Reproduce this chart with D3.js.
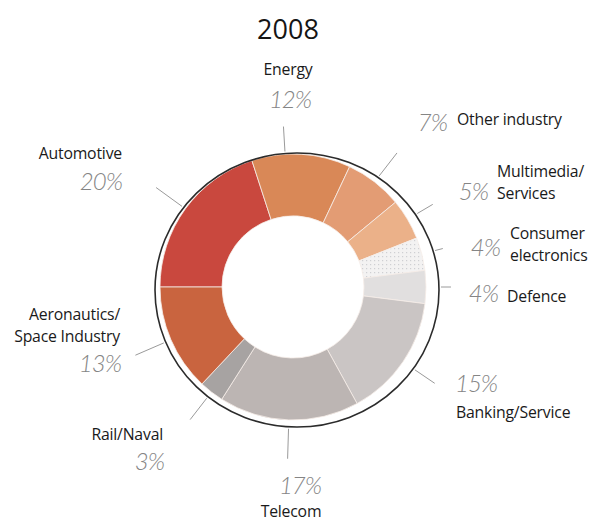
<!DOCTYPE html>
<html>
<head>
<meta charset="utf-8">
<script src="https://cdn.jsdelivr.net/npm/d3@7"></script>
<style>
  html, body { margin: 0; padding: 0; background: #fff; }
  svg { display: block; }
  .lbl { font-family: "Open Sans", sans-serif; font-size: 15.8px; fill: #1a1a1a; letter-spacing: -0.2px; }
  .pct { font-family: Lato, sans-serif; font-style: italic; font-weight: 300; font-size: 24px; fill: #858585; letter-spacing: -1px; }
  .title { font-family: "Open Sans", sans-serif; font-size: 27px; fill: #151515; }
</style>
</head>
<body>
<svg id="chart" width="594" height="523"></svg>
<script>
// Sector shares in 2008, listed clockwise starting at 9 o'clock
const sectors = ["Automotive", "Energy", "Other industry", "Multimedia/Services", "Consumer electronics",
                 "Defence", "Banking/Service", "Telecom", "Rail/Naval", "Aeronautics/Space Industry"];
const shares = [20, 12, 7, 5, 4, 4, 15, 17, 3, 13];
const shareLabels = ["20%", "12%", "7%", "5%", "4%", "4%", "15%", "17%", "3%", "13%"];
const colors = ["#c9483e", "#d98857", "#e39c74", "#ebb189", "url(#dots)",
                "#e1dfdf", "#cac5c4", "#bcb5b3", "#a7a3a2", "#c9643f"];

const svg = d3.select("#chart");
const cx = 293, cy = 287, rOuter = 133, rInner = 71;

// dotted fill for the consumer electronics slice
const defs = svg.append("defs");
const pat = defs.append("pattern").attr("id", "dots")
  .attr("width", 4).attr("height", 4).attr("patternUnits", "userSpaceOnUse");
pat.append("rect").attr("width", 4).attr("height", 4).attr("fill", "#f3f2f2");
pat.append("rect").attr("x", 1).attr("y", 1).attr("width", 1.2).attr("height", 1.2).attr("fill", "#cfcfd3");

svg.append("text").attr("class", "title")
  .attr("x", 288).attr("y", 39).attr("text-anchor", "middle").text("2008");

const pie = d3.pie().sort(null).value(d => d)
  .startAngle(-Math.PI / 2).endAngle(3 * Math.PI / 2);
const arcs = pie(shares);
const arc = d3.arc().innerRadius(rInner).outerRadius(rOuter);

const g = svg.append("g").attr("transform", `translate(${cx},${cy})`);
g.selectAll("path.slice").data(arcs).join("path")
  .attr("class", "slice")
  .attr("d", arc)
  .attr("fill", (d, i) => colors[i])
  .attr("stroke", "#f6eee8").attr("stroke-width", 0.8);

// hand-drawn style outline around the ring
const ring = { cx: 297, cy: 290, rx: 142, ry: 137 };
svg.append("ellipse")
  .attr("cx", ring.cx).attr("cy", ring.cy).attr("rx", ring.rx).attr("ry", ring.ry)
  .attr("fill", "none").attr("stroke", "#2b2b2b").attr("stroke-width", 1.6);

// distance from the pie centre to the outline along a direction
function ringDist(ux, uy) {
  const ox = (cx - ring.cx) / ring.rx, oy = (cy - ring.cy) / ring.ry;
  const dx = ux / ring.rx, dy = uy / ring.ry;
  const a = dx * dx + dy * dy, b = 2 * (ox * dx + oy * dy), c = ox * ox + oy * oy - 1;
  return (-b + Math.sqrt(b * b - 4 * a * c)) / (2 * a);
}

// label placement: name lines, anchor, name position, share position, tick length
const layout = [
  { lines: ["Automotive"], anchor: "end", x: 122, y: 159, px: 122, py: 190, tick: 32 },
  { lines: ["Energy"], anchor: "middle", x: 288, y: 75, px: 290, py: 108, tick: 25, shift: -7 },
  { lines: ["Other industry"], anchor: "start", x: 457, y: 125, px: 447, py: 131, pa: "end", tick: 29 },
  { lines: ["Multimedia/", "Services"], anchor: "start", x: 497, y: 177, px: 488, py: 200, pa: "end", tick: 18 },
  { lines: ["Consumer", "electronics"], anchor: "start", x: 510, y: 239, px: 500, py: 256, pa: "end", tick: 8 },
  { lines: ["Defence"], anchor: "start", x: 507, y: 302, px: 498, py: 302, pa: "end", tick: 10 },
  { lines: ["Banking/Service"], anchor: "start", x: 456, y: 418, px: 455, py: 392, pa: "start", tick: 24 },
  { lines: ["Telecom"], anchor: "middle", x: 291, y: 517, px: 300, py: 494, pa: "middle", tick: 30 },
  { lines: ["Rail/Naval"], anchor: "end", x: 163, y: 440, px: 164, py: 470, tick: 27 },
  { lines: ["Aeronautics/", "Space Industry"], anchor: "end", x: 120, y: 320, px: 121, py: 372, tick: 31 }
];

arcs.forEach((d, i) => {
  const L = layout[i];
  const ang = (d.startAngle + d.endAngle) / 2 + (L.shift || 0) * Math.PI / 180;
  const ux = Math.sin(ang), uy = -Math.cos(ang);
  const r0 = ringDist(ux, uy) + 2;
  svg.append("line")
    .attr("x1", cx + ux * r0).attr("y1", cy + uy * r0)
    .attr("x2", cx + ux * (r0 + L.tick)).attr("y2", cy + uy * (r0 + L.tick))
    .attr("stroke", "#9a9a9a").attr("stroke-width", 1);

  const t = svg.append("text").attr("class", "lbl")
    .attr("x", L.x).attr("y", L.y).attr("text-anchor", L.anchor);
  L.lines.forEach((s, k) => {
    t.append("tspan").attr("x", L.x).attr("dy", k === 0 ? 0 : 22).text(s);
  });

  svg.append("text").attr("class", "pct")
    .attr("x", L.px).attr("y", L.py).attr("text-anchor", L.pa || L.anchor)
    .text(shareLabels[i]);
});
</script>
</body>
</html>
